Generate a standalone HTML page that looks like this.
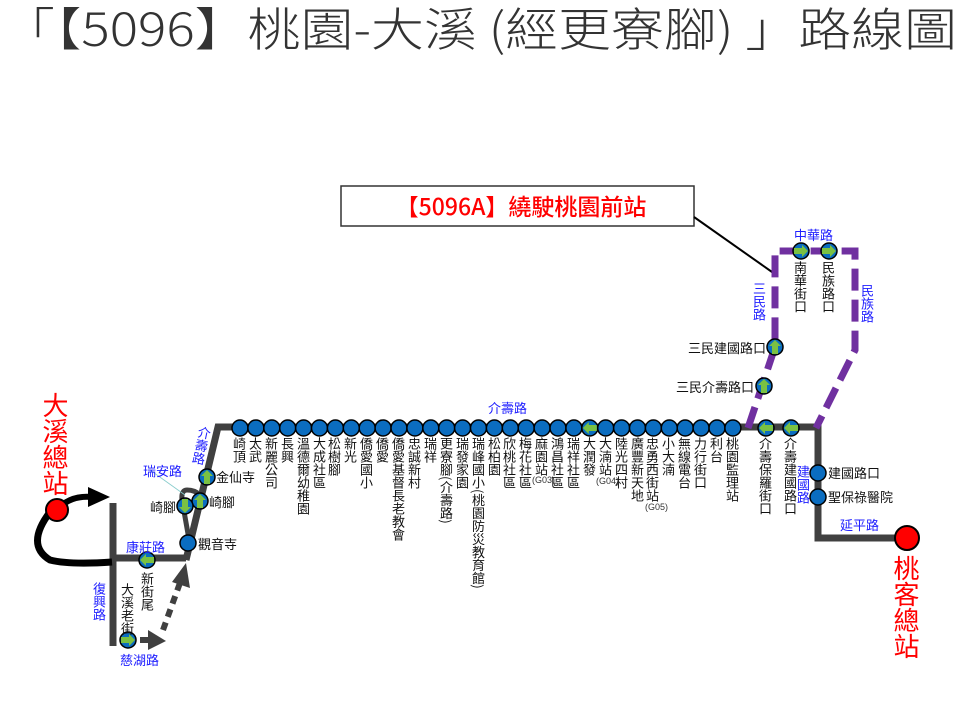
<!DOCTYPE html>
<html><head><meta charset="utf-8"><style>
body{margin:0;width:960px;height:720px;background:#fff;overflow:hidden;position:relative;font-family:"Liberation Sans","Noto Sans CJK TC",sans-serif}
svg{position:absolute;left:0;top:0}
.v{position:absolute;writing-mode:vertical-rl;font-size:13px;line-height:13px;color:#111;font-family:"Noto Sans CJK TC",sans-serif;white-space:nowrap}
.h{position:absolute;font-size:13px;line-height:13px;color:#111;font-family:"Noto Sans CJK TC",sans-serif;white-space:nowrap}
.b{color:#2020ff}
.s{position:absolute;font-size:9px;color:#333;font-family:"Liberation Sans",sans-serif}
</style></head><body>
<svg width="960" height="720" viewBox="0 0 960 720">
<defs>
<g id="gl"><circle r="8" fill="#0b6dc0" stroke="#000" stroke-width="1.5"/><polygon points="-7,0 -1,-6 -1,-3 7,-3 7,3 -1,3 -1,6" fill="#7ac143"/></g>
<g id="gr"><circle r="8" fill="#0b6dc0" stroke="#000" stroke-width="1.5"/><polygon points="7,0 1,-6 1,-3 -7,-3 -7,3 1,3 1,6" fill="#7ac143"/></g>
<g id="gu"><circle r="8" fill="#0b6dc0" stroke="#000" stroke-width="1.5"/><polygon points="0,-7 -6,-1 -3,-1 -3,7 3,7 3,-1 6,-1" fill="#7ac143"/></g>
<g id="gd"><circle r="8" fill="#0b6dc0" stroke="#000" stroke-width="1.5"/><polygon points="0,7 -6,1 -3,1 -3,-7 3,-7 3,1 6,1" fill="#7ac143"/></g>
</defs>
<text x="2" y="46" font-size="46" fill="#333" font-family="Noto Sans CJK TC,sans-serif" font-weight="300" textLength="955" lengthAdjust="spacingAndGlyphs">「【5096】桃園-大溪 (經更寮腳) 」路線圖</text>
<rect x="341" y="186" width="353" height="40" fill="#fff" stroke="#333" stroke-width="1.5"/>
<text x="521" y="215" text-anchor="middle" font-size="23" fill="#f00" font-family="Noto Sans CJK TC,sans-serif" font-weight="500">【5096A】繞駛桃園前站</text>
<line x1="694" y1="217" x2="772" y2="272" stroke="#000" stroke-width="2"/>
<polyline points="186,560 218,427 818,427 818,538 905,538" fill="none" stroke="#404040" stroke-width="7"/>
<polyline points="110,558 186,558" fill="none" stroke="#404040" stroke-width="7"/>
<line x1="113" y1="503" x2="113" y2="646" stroke="#404040" stroke-width="7"/>
<path d="M200,495 Q195,490 187,490 Q181,490 182,500 L190,545" fill="none" stroke="#404040" stroke-width="5"/>
<line x1="150" y1="470" x2="185" y2="495" stroke="#8cc" stroke-width="0.8"/>
<polyline points="748,428 775,347 775,251 855,251 855,350 816,428" fill="none" stroke="#7030a0" stroke-width="7" stroke-dasharray="22,9"/>
<path d="M57,510 Q70,495 92,497" fill="none" stroke="#000" stroke-width="6"/>
<polygon points="88,487 110,497 88,507" fill="#000"/>
<path d="M50,512 Q25,545 50,560 Q70,565 112,562" fill="none" stroke="#000" stroke-width="7"/>
<circle cx="57" cy="510" r="11" fill="#f00" stroke="#000" stroke-width="2"/>
<circle cx="907" cy="538" r="12" fill="#f00" stroke="#000" stroke-width="2"/>
<line x1="140" y1="640" x2="155" y2="640" stroke="#404040" stroke-width="6"/>
<polygon points="148,630 166,641 148,650" fill="#404040"/>
<line x1="163" y1="630" x2="181" y2="580" stroke="#404040" stroke-width="6" stroke-dasharray="8,6"/>
<polygon points="186,563 190,588 172,582" fill="#404040"/>
<use href="#gu" x="207" y="477"/><use href="#gu" x="200" y="501"/><use href="#gd" x="185" y="506"/>
<circle cx="188" cy="543" r="8" fill="#0b6dc0" stroke="#000" stroke-width="1.5"/>
<use href="#gl" x="147" y="560"/><use href="#gr" x="128" y="640"/>
<use href="#gl" x="766" y="428"/><use href="#gl" x="791" y="428"/>
<use href="#gu" x="775" y="347"/><use href="#gu" x="764" y="386"/>
<use href="#gr" x="801" y="251"/><use href="#gr" x="829" y="251"/>
<circle cx="818" cy="473" r="8" fill="#0b6dc0" stroke="#000" stroke-width="1.5"/>
<circle cx="818" cy="497" r="8" fill="#0b6dc0" stroke="#000" stroke-width="1.5"/>
<circle cx="240.0" cy="428" r="8" fill="#0b6dc0" stroke="#000" stroke-width="1.5"/><circle cx="255.9" cy="428" r="8" fill="#0b6dc0" stroke="#000" stroke-width="1.5"/><circle cx="271.8" cy="428" r="8" fill="#0b6dc0" stroke="#000" stroke-width="1.5"/><circle cx="287.7" cy="428" r="8" fill="#0b6dc0" stroke="#000" stroke-width="1.5"/><circle cx="303.6" cy="428" r="8" fill="#0b6dc0" stroke="#000" stroke-width="1.5"/><circle cx="319.5" cy="428" r="8" fill="#0b6dc0" stroke="#000" stroke-width="1.5"/><circle cx="335.4" cy="428" r="8" fill="#0b6dc0" stroke="#000" stroke-width="1.5"/><circle cx="351.3" cy="428" r="8" fill="#0b6dc0" stroke="#000" stroke-width="1.5"/><circle cx="367.2" cy="428" r="8" fill="#0b6dc0" stroke="#000" stroke-width="1.5"/><circle cx="383.1" cy="428" r="8" fill="#0b6dc0" stroke="#000" stroke-width="1.5"/><circle cx="399.0" cy="428" r="8" fill="#0b6dc0" stroke="#000" stroke-width="1.5"/><circle cx="414.9" cy="428" r="8" fill="#0b6dc0" stroke="#000" stroke-width="1.5"/><circle cx="430.8" cy="428" r="8" fill="#0b6dc0" stroke="#000" stroke-width="1.5"/><circle cx="446.7" cy="428" r="8" fill="#0b6dc0" stroke="#000" stroke-width="1.5"/><circle cx="462.6" cy="428" r="8" fill="#0b6dc0" stroke="#000" stroke-width="1.5"/><circle cx="478.5" cy="428" r="8" fill="#0b6dc0" stroke="#000" stroke-width="1.5"/><circle cx="494.4" cy="428" r="8" fill="#0b6dc0" stroke="#000" stroke-width="1.5"/><circle cx="510.3" cy="428" r="8" fill="#0b6dc0" stroke="#000" stroke-width="1.5"/><circle cx="526.2" cy="428" r="8" fill="#0b6dc0" stroke="#000" stroke-width="1.5"/><circle cx="542.1" cy="428" r="8" fill="#0b6dc0" stroke="#000" stroke-width="1.5"/><circle cx="558.0" cy="428" r="8" fill="#0b6dc0" stroke="#000" stroke-width="1.5"/><circle cx="573.9" cy="428" r="8" fill="#0b6dc0" stroke="#000" stroke-width="1.5"/><use href="#gl" x="589.8" y="428"/><circle cx="605.7" cy="428" r="8" fill="#0b6dc0" stroke="#000" stroke-width="1.5"/><circle cx="621.6" cy="428" r="8" fill="#0b6dc0" stroke="#000" stroke-width="1.5"/><circle cx="637.5" cy="428" r="8" fill="#0b6dc0" stroke="#000" stroke-width="1.5"/><circle cx="653.4" cy="428" r="8" fill="#0b6dc0" stroke="#000" stroke-width="1.5"/><circle cx="669.3" cy="428" r="8" fill="#0b6dc0" stroke="#000" stroke-width="1.5"/><circle cx="685.2" cy="428" r="8" fill="#0b6dc0" stroke="#000" stroke-width="1.5"/><circle cx="701.1" cy="428" r="8" fill="#0b6dc0" stroke="#000" stroke-width="1.5"/><circle cx="717.0" cy="428" r="8" fill="#0b6dc0" stroke="#000" stroke-width="1.5"/><circle cx="732.9" cy="428" r="8" fill="#0b6dc0" stroke="#000" stroke-width="1.5"/>
</svg>
<div class="v" style="left:42px;top:392px;font-size:26px;line-height:27px;color:#f00">大溪總站</div>
<div class="v" style="left:893px;top:555px;font-size:26px;line-height:27px;color:#f00">桃客總站</div>
<div class="v" style="left:233px;top:437px">崎頂</div>
<div class="v" style="left:249px;top:437px">太武</div>
<div class="v" style="left:265px;top:437px">新麗公司</div>
<div class="v" style="left:281px;top:437px">長興</div>
<div class="v" style="left:297px;top:437px">溫德爾幼稚園</div>
<div class="v" style="left:313px;top:437px">大成社區</div>
<div class="v" style="left:328px;top:437px">松樹腳</div>
<div class="v" style="left:344px;top:437px">新光</div>
<div class="v" style="left:360px;top:437px">僑愛國小</div>
<div class="v" style="left:376px;top:437px">僑愛</div>
<div class="v" style="left:392px;top:437px">僑愛基督長老教會</div>
<div class="v" style="left:408px;top:437px">忠誠新村</div>
<div class="v" style="left:424px;top:437px">瑞祥</div>
<div class="v" style="left:440px;top:437px">更寮腳(介壽路)</div>
<div class="v" style="left:456px;top:437px">瑞發家園</div>
<div class="v" style="left:472px;top:437px">瑞峰國小(桃園防災教育館)</div>
<div class="v" style="left:488px;top:437px">松柏園</div>
<div class="v" style="left:503px;top:437px">欣桃社區</div>
<div class="v" style="left:519px;top:437px">梅花社區</div>
<div class="v" style="left:535px;top:437px">麻園站</div>
<div class="v" style="left:551px;top:437px">鴻昌社區</div>
<div class="v" style="left:567px;top:437px">瑞祥社區</div>
<div class="v" style="left:583px;top:437px">大潤發</div>
<div class="v" style="left:599px;top:437px">大湳站</div>
<div class="v" style="left:615px;top:437px">陸光四村</div>
<div class="v" style="left:631px;top:437px">廣豐新天地</div>
<div class="v" style="left:646px;top:437px">忠勇西街站</div>
<div class="v" style="left:662px;top:437px">小大湳</div>
<div class="v" style="left:678px;top:437px">無線電台</div>
<div class="v" style="left:694px;top:437px">力行街口</div>
<div class="v" style="left:710px;top:437px">利台</div>
<div class="v" style="left:726px;top:437px">桃園監理站</div>
<div class="v" style="left:759px;top:437px">介壽保羅街口</div>
<div class="v" style="left:784px;top:437px">介壽建國路口</div>
<div class="s" style="left:532px;top:475px">(G03)</div>
<div class="s" style="left:596px;top:476px">(G04)</div>
<div class="s" style="left:645px;top:502px">(G05)</div>
<div class="v" style="left:794px;top:261px">南華街口</div>
<div class="v" style="left:822px;top:261px">民族路口</div>
<div class="h" style="left:688px;top:341px">三民建國路口</div>
<div class="h" style="left:676px;top:380px">三民介壽路口</div>
<div class="h b" style="left:794px;top:228px">中華路</div>
<div class="v b" style="left:753px;top:282px">三民路</div>
<div class="v b" style="left:861px;top:284px">民族路</div>
<div class="h" style="left:828px;top:466px">建國路口</div>
<div class="h" style="left:828px;top:490px">聖保祿醫院</div>
<div class="v b" style="left:797px;top:465px">建國路</div>
<div class="h b" style="left:840px;top:518px">延平路</div>
<div class="h b" style="left:488px;top:401px">介壽路</div>
<div class="h" style="left:216px;top:470px">金仙寺</div>
<div class="h" style="left:209px;top:495px">崎腳</div>
<div class="h" style="left:150px;top:500px">崎腳</div>
<div class="h" style="left:198px;top:537px">觀音寺</div>
<div class="h b" style="left:143px;top:464px">瑞安路</div>
<div class="v b" style="left:195px;top:426px;transform:rotate(12deg)">介壽路</div>
<div class="h b" style="left:126px;top:540px">康莊路</div>
<div class="v" style="left:141px;top:572px">新街尾</div>
<div class="v" style="left:121px;top:583px">大溪老街</div>
<div class="v b" style="left:93px;top:582px">復興路</div>
<div class="h b" style="left:120px;top:653px">慈湖路</div>
</body></html>
